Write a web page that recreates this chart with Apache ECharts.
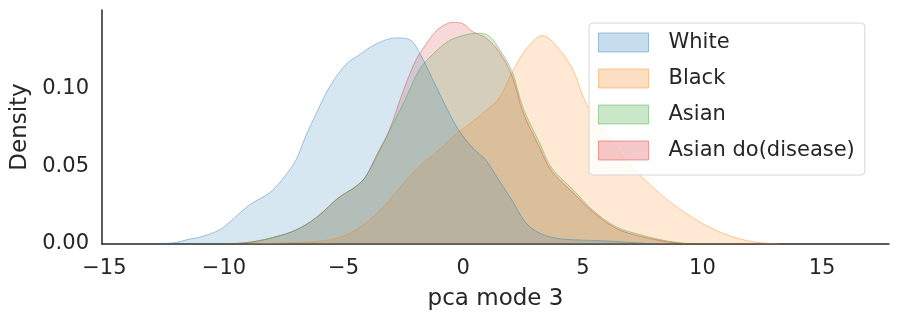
<!DOCTYPE html>
<html>
<head>
<meta charset="utf-8">
<script src="https://cdn.jsdelivr.net/npm/echarts@6/dist/echarts.min.js"></script>
<style>
  html, body { margin: 0; padding: 0; background: #fff; }
  #main { width: 899px; height: 322px; }
</style>
</head>
<body>
<div id="main"></div>
<script>
var myChart = echarts.init(document.getElementById('main'));

// kde curves
var whiteX = [-13, -12, -11.5, -11, -10.2, -9.7, -8.95, -8.1, -7.6, -7.0, -6.6, -6.15, -5.6, -4.9, -4.35, -3.65, -2.8, -2.25, -1.85, -1.3, -0.7, -0.17, 0.4, 0.95, 1.5, 2.05, 2.6, 3.2, 4.0, 5.0, 6.0, 7.0, 8.0];
var whiteY = [0, 0.001, 0.003, 0.0045, 0.009, 0.015, 0.025, 0.033, 0.041, 0.054, 0.069, 0.084, 0.101, 0.116, 0.122, 0.129, 0.133, 0.132, 0.124, 0.107, 0.088, 0.073, 0.062, 0.054, 0.041, 0.028, 0.014, 0.007, 0.0035, 0.0025, 0.002, 0.001, 0];

var blackX = [-9, -7, -5.9, -5.1, -4.5, -3.8, -3.1, -2.4, -1.7, -1.0, -0.3, 0.4, 1.1, 1.5, 2.05, 2.5, 3.0, 3.3, 4.0, 4.6, 5.1, 5.7, 6.4, 7.1, 7.9, 8.75, 9.6, 10.4, 11.3, 12.2, 13.2];
var blackY = [0, 0.001, 0.002, 0.0045, 0.009, 0.017, 0.028, 0.041, 0.052, 0.061, 0.071, 0.079, 0.088, 0.094, 0.111, 0.123, 0.132, 0.1345, 0.126, 0.112, 0.092, 0.077, 0.062, 0.049, 0.037, 0.026, 0.017, 0.010, 0.0045, 0.0013, 0];

var asianX = [-10, -9, -8.0, -7.0, -6.15, -5.2, -4.5, -4.1, -3.5, -2.95, -2.4, -1.85, -1.3, -0.6, 0.1, 0.67, 1.1, 1.5, 2.05, 2.5, 3.2, 3.7, 4.6, 5.4, 6.4, 7.4, 8.5, 9.5];
var asianY = [0, 0.001, 0.004, 0.009, 0.017, 0.030, 0.037, 0.043, 0.060, 0.077, 0.094, 0.112, 0.122, 0.131, 0.135, 0.136, 0.134, 0.126, 0.111, 0.088, 0.065, 0.049, 0.035, 0.022, 0.011, 0.006, 0.002, 0];

var diseaseX = [-10, -9, -8.0, -7.0, -6.15, -5.2, -4.5, -4.1, -3.6, -3.1, -2.55, -2.0, -1.55, -1.1, -0.7, -0.45, 0, 0.4, 0.95, 1.5, 2.05, 2.5, 3.2, 3.7, 4.6, 5.4, 6.4, 7.4, 8.5, 9.5];
var diseaseY = [0, 0.001, 0.004, 0.009, 0.017, 0.030, 0.037, 0.043, 0.058, 0.073, 0.097, 0.118, 0.129, 0.138, 0.142, 0.143, 0.142, 0.137, 0.133, 0.124, 0.108, 0.085, 0.062, 0.047, 0.033, 0.021, 0.010, 0.005, 0.0015, 0];

var names = ['White', 'Black', 'Asian', 'Asian do(disease)'];
var rgb = ['31,119,180', '255,127,14', '44,160,44', '214,39,40'];
var xTicks = [-15, -10, -5, 0, 5, 10, 15];
var yTicks = [0, 0.05, 0.10];

var font = 'DejaVu Sans';
var textColor = '#262626';

function pairs(xs, ys) {
    return xs.map(function (x, i) { return [x, ys[i]]; });
}

function kde(idx, xs, ys) {
    return {
        name: names[idx],
        type: 'line',
        smooth: 0.35,
        showSymbol: false,
        silent: true,
        data: pairs(xs, ys),
        itemStyle: { color: 'rgba(' + rgb[idx] + ',0.25)' },
        lineStyle: { color: 'rgba(' + rgb[idx] + ',0.4)', width: 1 },
        areaStyle: { color: 'rgba(' + rgb[idx] + ',0.25)', origin: 'start' }
    };
}

var option = {
    backgroundColor: '#fff',
    animation: false,
    grid: { left: 102, right: 10, top: 10, bottom: 78 },
    legend: {
        orient: 'vertical',
        left: 589,
        top: 23,
        padding: [9, 10, 14, 9],
        icon: 'rect',
        itemWidth: 50,
        itemHeight: 19,
        itemGap: 15,
        backgroundColor: 'rgba(255,255,255,0.8)',
        borderColor: '#d6d6d6',
        borderWidth: 1,
        borderRadius: 4,
        textStyle: { fontFamily: font, fontSize: 21, color: textColor, padding: [0, 0, 0, 15] },
        data: names.map(function (n, i) {
            return {
                name: n,
                itemStyle: {
                    color: 'rgba(' + rgb[i] + ',0.25)',
                    borderColor: 'rgba(' + rgb[i] + ',0.4)',
                    borderWidth: 1
                }
            };
        })
    },
    xAxis: {
        type: 'value',
        min: -15.1,
        max: 17.8,
        name: 'pca mode 3',
        nameLocation: 'middle',
        nameGap: 44,
        nameTextStyle: { fontFamily: font, fontSize: 23, color: textColor },
        axisLine: { show: true, onZero: false, lineStyle: { color: '#262626', width: 1.5 } },
        axisTick: { show: false },
        splitLine: { show: false },
        axisLabel: {
            customValues: xTicks,
            margin: 14,
            fontFamily: font,
            fontSize: 21,
            color: textColor,
            formatter: function (v) { return String(v).replace('-', '\u2212'); }
        }
    },
    yAxis: {
        type: 'value',
        min: 0,
        max: 0.151,
        name: 'Density',
        nameLocation: 'middle',
        nameGap: 63,
        nameTextStyle: { fontFamily: font, fontSize: 23, color: textColor },
        axisLine: { show: true, onZero: false, lineStyle: { color: '#262626', width: 1.5 } },
        axisTick: { show: false },
        splitLine: { show: false },
        axisLabel: {
            customValues: yTicks,
            margin: 13,
            fontFamily: font,
            fontSize: 21,
            color: textColor,
            formatter: function (v) { return v.toFixed(2); }
        }
    },
    // seaborn draws the first hue last, so it sits on top
    series: [
        kde(3, diseaseX, diseaseY),
        kde(2, asianX, asianY),
        kde(1, blackX, blackY),
        kde(0, whiteX, whiteY)
    ]
};

myChart.setOption(option);
</script>
</body>
</html>
